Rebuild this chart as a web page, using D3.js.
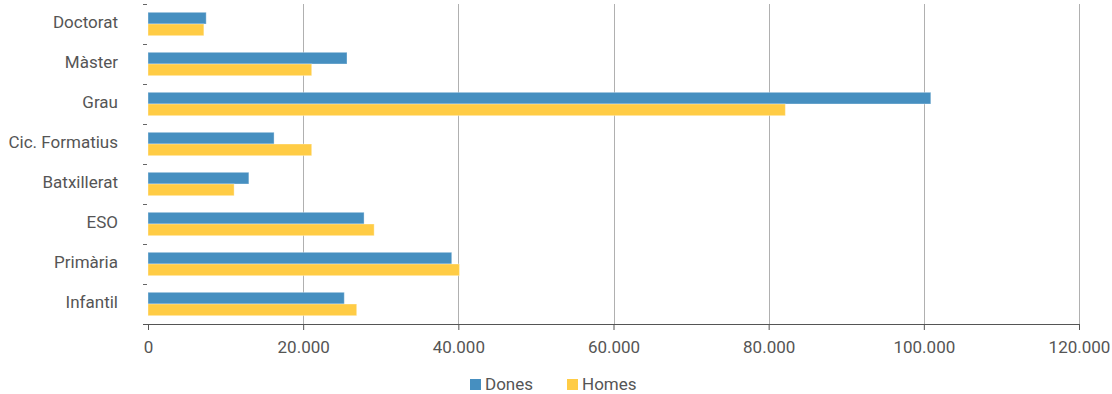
<!DOCTYPE html>
<html>
<head>
<meta charset="utf-8">
<script src="https://cdn.jsdelivr.net/npm/d3@7"></script>
<style>
  html, body { margin: 0; padding: 0; background: #fff; }
  svg { display: block; }
  text { font-family: Roboto, "Noto Sans", sans-serif; fill: #555; }
</style>
</head>
<body>
<svg id="chart" width="1112" height="394"></svg>
<script>
const categories = ["Doctorat", "Màster", "Grau", "Cic. Formatius", "Batxillerat", "ESO", "Primària", "Infantil"];
const seriesNames = ["Dones", "Homes"];
const dones = [7500, 25650, 100900, 16250, 13000, 27850, 39150, 25300];
const homes = [7200, 21100, 82150, 21100, 11100, 29150, 40150, 26900];
const xTicks = [0, 20000, 40000, 60000, 80000, 100000, 120000];
const colors = ["#468fc0", "#ffcc45"];

(function () {
const seriesValues = [dones, homes];
const rows = categories.map((c, i) => ({ cat: c, vals: seriesValues.map((s, j) => ({ key: seriesNames[j], value: s[i] })) }));

const svg = d3.select("#chart");
const mLeft = 148, mRight = 1079, mTop = 4, mBottom = 324;
const fs = 17;

const x = d3.scaleLinear().domain([0, 120000]).range([mLeft, mRight]);
const y = d3.scaleBand().domain(categories).range([mTop, mBottom]).paddingInner(0.415).paddingOuter(0.2075);
const yOuter = d3.scaleBand().domain(categories).range([mTop, mBottom]);
const ySub = d3.scaleBand().domain(seriesNames).range([0, y.bandwidth()]);
const color = d3.scaleOrdinal().domain(seriesNames).range(colors);
const fmt = v => d3.format(",")(v).replace(/,/g, ".");

// gridlines
svg.append("g").selectAll("line").data(xTicks.filter(t => t > 0)).join("line")
  .attr("x1", d => Math.round(x(d)) + 0.5).attr("x2", d => Math.round(x(d)) + 0.5)
  .attr("y1", mTop).attr("y2", mBottom)
  .attr("stroke", "#b0b0b0").attr("stroke-width", 1);

// bars
const g = svg.append("g").selectAll("g").data(rows).join("g")
  .attr("transform", d => `translate(0,${y(d.cat)})`);
g.selectAll("rect").data(d => d.vals).join("rect")
  .attr("x", x(0))
  .attr("y", d => ySub(d.key))
  .attr("width", d => x(d.value) - x(0))
  .attr("height", ySub.bandwidth())
  .attr("fill", d => color(d.key))
  .attr("stroke", "#ffffff").attr("stroke-opacity", 0.35).attr("stroke-width", 1);

// x axis
const xAxis = svg.append("g").attr("transform", `translate(0,${mBottom})`)
  .call(d3.axisBottom(x).tickValues(xTicks).tickFormat(fmt).tickSizeOuter(0).tickSize(6).tickPadding(11));
xAxis.select(".domain").attr("stroke", "#555").attr("d", `M${mLeft - 5},0.5H${mRight}`);
xAxis.selectAll(".tick line").attr("stroke", "#555");
xAxis.selectAll(".tick text").attr("font-size", fs).attr("fill", "#555").attr("font-family", "Roboto, sans-serif");

// y axis: tick marks at band boundaries
const bounds = categories.map(c => yOuter(c));
svg.append("g").selectAll("line").data(bounds).join("line")
  .attr("x1", 143).attr("x2", 147)
  .attr("y1", d => Math.round(d) + 0.5).attr("y2", d => Math.round(d) + 0.5)
  .attr("stroke", "#666").attr("stroke-width", 1);
svg.append("g").selectAll("text").data(categories).join("text")
  .attr("x", 118)
  .attr("y", d => yOuter(d) + yOuter.bandwidth() / 2)
  .attr("dy", "0.25em")
  .attr("text-anchor", "end")
  .attr("font-size", fs)
  .text(d => d);

// legend
const legendX = [470, 567];
const lg = svg.append("g").selectAll("g").data(seriesNames).join("g")
  .attr("transform", (d, i) => `translate(${legendX[i]},379)`);
lg.append("rect").attr("width", 11).attr("height", 11).attr("fill", d => color(d));
lg.append("text").attr("x", 15).attr("y", 11).attr("font-size", fs).text(d => d);
})();
</script>
</body>
</html>
